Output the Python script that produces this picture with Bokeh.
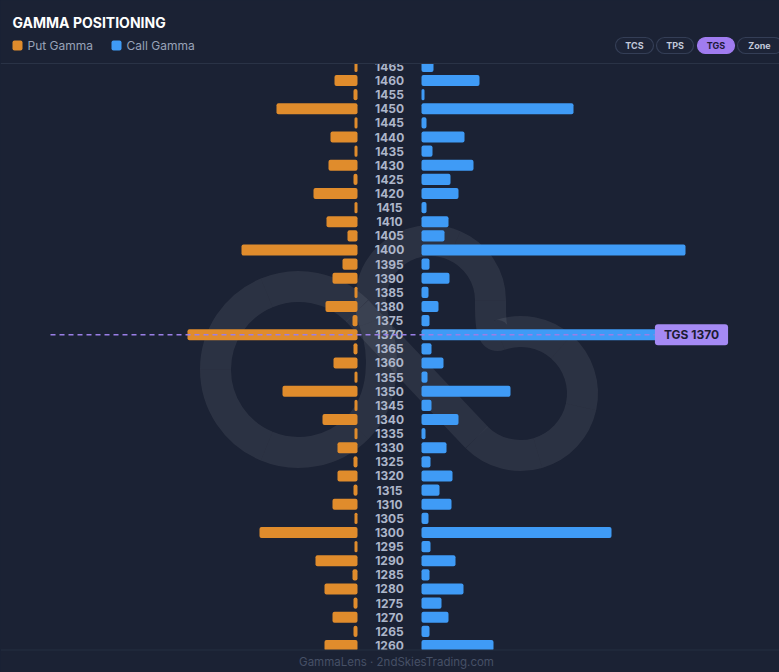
import math
from bokeh.plotting import figure
from bokeh.models import Range1d, ColumnDataSource, Label, BoxAnnotation, Span
from bokeh.core.properties import value
from bokeh.embed import file_html
from bokeh.resources import INLINE

# ---------------- data ----------------
strikes = [1465, 1460, 1455, 1450, 1445, 1440, 1435, 1430, 1425, 1420,
           1415, 1410, 1405, 1400, 1395, 1390, 1385, 1380, 1375, 1370,
           1365, 1360, 1355, 1350, 1345, 1340, 1335, 1330, 1325, 1320,
           1315, 1310, 1305, 1300, 1295, 1290, 1285, 1280, 1275, 1270,
           1265, 1260]
put_gamma = [0.3, 2.3, 0.4, 8.1, 0.3, 2.7, 0.3, 2.9, 0.4, 4.4,
             0.3, 3.1, 1.0, 11.6, 1.5, 2.5, 0.3, 3.2, 0.5, 17.0,
             0.4, 2.4, 0.3, 7.5, 0.3, 3.5, 0.3, 2.0, 0.4, 2.0,
             0.4, 2.5, 0.3, 9.8, 0.3, 4.2, 0.5, 3.3, 0.4, 2.5,
             0.4, 3.3]
call_gamma = [1.2, 5.8, 0.3, 15.2, 0.5, 4.3, 1.1, 5.2, 2.9, 3.7,
              0.5, 2.7, 2.3, 26.4, 0.8, 2.8, 0.7, 1.7, 0.8, 26.0,
              1.0, 2.2, 0.6, 8.9, 1.0, 3.7, 0.4, 2.5, 0.9, 3.1,
              1.8, 3.0, 0.7, 19.0, 0.9, 3.4, 0.8, 4.2, 2.0, 2.7,
              0.8, 7.2]
tgs_strike = 1370
title_text = "GAMMA POSITIONING"
legend_labels = ["Put Gamma", "Call Gamma"]
button_labels = ["TCS", "TPS", "TGS", "Zone"]
active_button = "TGS"
footer_text = "GammaLens · 2ndSkiesTrading.com"

# ---------------- style ----------------
W, H = 779, 672
BG = "#1b2234"
PUT_C = "#e08c2c"
CALL_C = "#3f9bf6"
PURPLE = "#a58af4"
GAP = 3.2  # gap between center labels and bars, in gamma units


def py(v):
    """convert a top-down pixel row to the layout y range"""
    return H - v


p = figure(width=W, height=H, x_range=Range1d(0, W), y_range=Range1d(0, H),
           x_axis_type=None, y_axis_type=None, toolbar_location=None,
           output_backend="svg", min_border=0)
p.extra_x_ranges = {"gamma": Range1d(-38.9, 39.0)}
p.extra_y_ranges = {"strike": Range1d(1250.44, 1488.32)}
p.background_fill_color = BG
p.border_fill_color = BG
p.outline_line_color = None
p.grid.visible = False

# ---------------- watermark (decoration) ----------------
def arc_beziers(cx, cy, r, a0, a1, nseg):
    out = []
    step = (a1 - a0) / nseg
    for i in range(nseg):
        t0 = math.radians(a0 + i * step)
        t1 = math.radians(a0 + (i + 1) * step)
        k = 4.0 / 3.0 * math.tan((t1 - t0) / 4.0)
        p0 = (cx + r * math.cos(t0), cy + r * math.sin(t0))
        p3 = (cx + r * math.cos(t1), cy + r * math.sin(t1))
        c0 = (p0[0] - k * r * math.sin(t0), p0[1] + k * r * math.cos(t0))
        c1 = (p3[0] + k * r * math.sin(t1), p3[1] - k * r * math.cos(t1))
        out.append((p0, c0, c1, p3))
    return out

segs = []
segs += arc_beziers(298, 369, 83, 45, 315, 4)
a = (356.7, 310.3); b = (476.2, 436.8)
segs.append((a, (a[0] + (b[0] - a[0]) / 3, a[1] + (b[1] - a[1]) / 3),
             (a[0] + 2 * (b[0] - a[0]) / 3, a[1] + 2 * (b[1] - a[1]) / 3), b))
segs += arc_beziers(520, 393, 62, 135, -110, 4)
segs.append(((498.8, 334.7), (489.4, 338.1), (490, 314), (490, 300)))
segs += arc_beziers(430, 300, 60, 0, -200, 3)
segs.append(((373.6, 320.5), (385.6, 353.4), (384.9, 399.5), (356.7, 427.7)))

wm = ColumnDataSource(dict(
    x0=[s[0][0] for s in segs], y0=[py(s[0][1]) for s in segs],
    cx0=[s[1][0] for s in segs], cy0=[py(s[1][1]) for s in segs],
    cx1=[s[2][0] for s in segs], cy1=[py(s[2][1]) for s in segs],
    x1=[s[3][0] for s in segs], y1=[py(s[3][1]) for s in segs]))
p.bezier(x0="x0", y0="y0", x1="x1", y1="y1", cx0="cx0", cy0="cy0",
         cx1="cx1", cy1="cy1", source=wm, line_color="#ffffff",
         line_alpha=0.075, line_width=31)

# ---------------- bars ----------------
src = ColumnDataSource(dict(
    strike=strikes,
    label=[str(s) for s in strikes],
    put_left=[-(GAP + v) for v in put_gamma],
    put_right=[-GAP] * len(strikes),
    call_left=[GAP] * len(strikes),
    call_right=[GAP + v for v in call_gamma],
))
p.hbar(y="strike", left="put_left", right="put_right", height=3.9,
       source=src, x_range_name="gamma", y_range_name="strike",
       fill_color=PUT_C, line_color=None, border_radius=2)
p.hbar(y="strike", left="call_left", right="call_right", height=3.9,
       source=src, x_range_name="gamma", y_range_name="strike",
       fill_color=CALL_C, line_color=None, border_radius=2)
p.text(x=0, y="strike", text="label", source=src, x_range_name="gamma",
       y_range_name="strike", text_align="center", text_baseline="middle",
       text_font=value("Inter"), text_font_size="12px",
       text_font_style="bold", text_color="#adb6ca")

# TGS dashed line
p.segment(x0=50, x1=654, y0=tgs_strike, y1=tgs_strike, y_range_name="strike",
          line_color="#9a7ee6", line_width=1.6, line_dash="5 4")

# ---------------- covers / separators ----------------
p.add_layout(BoxAnnotation(left=0, right=W, bottom=py(63), top=H + 5,
                           fill_color=BG, fill_alpha=1, line_color=None))
p.add_layout(BoxAnnotation(left=0, right=W, bottom=-5, top=py(649.5),
                           fill_color=BG, fill_alpha=1, line_color=None))
p.add_layout(Span(location=py(63), dimension="width", line_color="#2a3346",
                  line_width=1))
p.add_layout(Span(location=py(649.5), dimension="width", line_color="#252e40",
                  line_width=1))

# TGS label
p.add_layout(Label(x=691, y=tgs_strike, y_range_name="strike",
                   text=f"TGS {tgs_strike}", text_align="center",
                   text_baseline="middle", text_font="Inter",
                   text_font_size="12px", text_font_style="bold",
                   text_color="#1c1c33", background_fill_color=PURPLE,
                   background_fill_alpha=1, border_radius=3,
                   padding=dict(left=9, right=9, top=3, bottom=3)))

# ---------------- header ----------------
p.add_layout(Label(x=12, y=py(22), text=title_text, text_baseline="middle",
                   text_font="Inter", text_font_size="14px",
                   text_font_style="bold", text_color="#ffffff"))

leg_colors = [PUT_C, CALL_C]
leg_x = [12, 111]
for lx, lc, lt in zip(leg_x, leg_colors, legend_labels):
    p.add_layout(BoxAnnotation(left=lx, right=lx + 10, top=py(40), bottom=py(50),
                               fill_color=lc, fill_alpha=1, line_color=None,
                               border_radius=2))
    p.add_layout(Label(x=lx + 15, y=py(45), text=lt, text_baseline="middle",
                       text_font="Inter", text_font_size="12px",
                       text_color="#98a2b8"))

btn_x = [(615, 653), (656, 693), (697, 734), (737, 782)]
for (bl, br), bt in zip(btn_x, button_labels):
    act = bt == active_button
    p.add_layout(BoxAnnotation(left=bl, right=br, top=py(37), bottom=py(53),
                               fill_color="#a07cf0" if act else "#1d2437",
                               fill_alpha=1,
                               line_color="#a07cf0" if act else "#343e56",
                               line_alpha=1, line_width=1.2, border_radius=8))
    p.add_layout(Label(x=(bl + br) / 2 if bt != "Zone" else 759, y=py(45),
                       text=bt, text_align="center", text_baseline="middle",
                       text_font="Inter", text_font_size="9px",
                       text_font_style="bold",
                       text_color="#1e1a3a" if act else "#c2c9da"))

# ---------------- footer ----------------
p.add_layout(Label(x=396, y=py(661), text=footer_text, text_align="center",
                   text_baseline="middle", text_font="Inter",
                   text_font_size="11.5px", text_color="#465066"))

html = file_html(p, INLINE, title="Gamma Positioning")
html = html.replace("<head>", "<head><style>html,body{margin:0;padding:0;"
                    "background:#1b2234;overflow:hidden}</style>", 1)
open("out.html", "w").write(html)
